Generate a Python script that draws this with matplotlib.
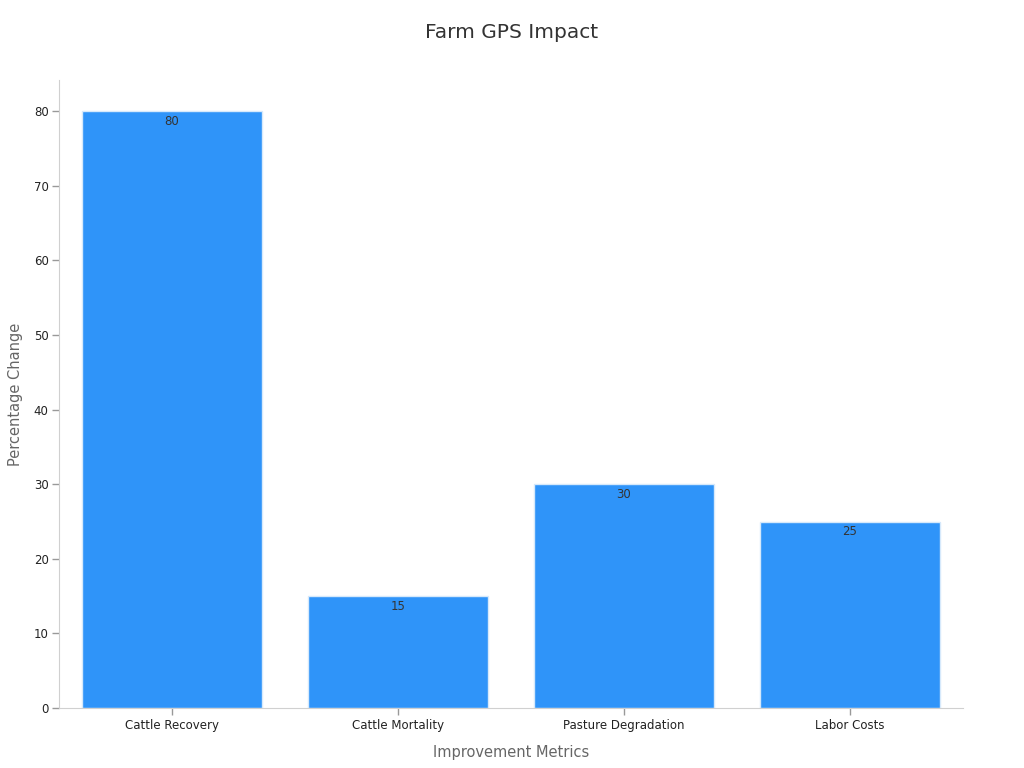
import matplotlib.pyplot as plt

categories = ["Cattle Recovery", "Cattle Mortality", "Pasture Degradation", "Labor Costs"]
values = [80, 15, 30, 25]

fig = plt.figure(figsize=(10.24, 7.68), dpi=100)
ax = fig.add_axes([0.0576, 0.078, 0.8828, 0.818])

x = range(len(categories))
bars = ax.bar(x, values, width=0.8, color="#2f94f9", edgecolor="#d6e9fb", linewidth=1)

for b, v in zip(bars, values):
    ax.text(b.get_x() + b.get_width() / 2, v - 0.5, str(v), ha="center", va="top",
            fontsize=8.5, color="#333333")

ax.set_xlim(-0.5, 3.5)
ax.set_ylim(0, 84.2)
ax.set_xticks(list(x))
ax.set_xticklabels(categories)
ax.set_yticks(range(0, 81, 10))
ax.tick_params(axis="both", labelsize=8.5, colors="#222222", length=5, width=1, pad=2.5)
ax.tick_params(axis="both", color="#999999")

for s in ["top", "right"]:
    ax.spines[s].set_visible(False)
for s in ["left", "bottom"]:
    ax.spines[s].set_color("#d0d0d0")

ax.set_xlabel("Improvement Metrics", fontsize=10.5, color="#666666", labelpad=10)
ax.set_ylabel("Percentage Change", fontsize=10.5, color="#666666", labelpad=8)
fig.suptitle("Farm GPS Impact", fontsize=14.5, color="#333333", y=0.97)

fig.savefig("out.png", dpi=100)
